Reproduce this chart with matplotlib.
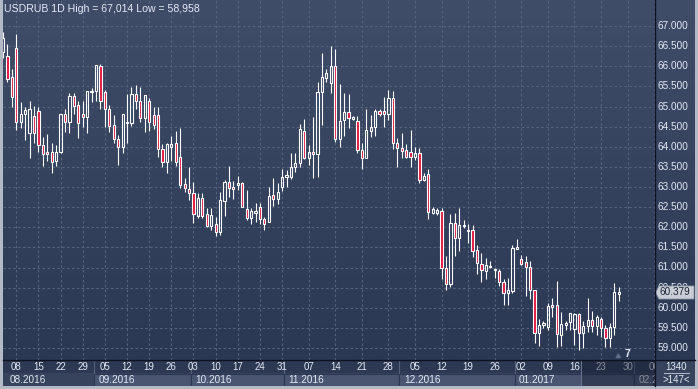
import numpy as np
import pandas as pd
import matplotlib
matplotlib.use('Agg')
import matplotlib.pyplot as plt
from matplotlib.patches import Rectangle, Polygon
from matplotlib.colors import LinearSegmentedColormap

W, H = 698, 389
plt.rcParams['font.family'] = ['Liberation Sans', 'DejaVu Sans']

# USDRUB daily bars (weekdays until early Nov, then Sun-Fri bars)
dates = list(pd.bdate_range('2016-08-03', '2016-11-04')) + \
    [d for d in pd.date_range('2016-11-06', '2017-02-12') if d.weekday() != 5]

opens = [66.354, 66.255, 65.733, 66.453, 64.615, 64.814, 64.342, 64.764, 64.888, 64.043,
         63.870, 63.870, 63.646, 63.870, 64.814, 64.615, 65.261, 65.037, 64.814, 64.739,
         65.360, 65.385, 66.006, 65.360, 64.938, 64.540, 64.193, 63.994, 64.590, 64.590,
         65.311, 65.137, 64.714, 65.137, 64.789, 64.789, 63.944, 63.621, 63.994, 64.093,
         63.745, 63.075, 62.950, 62.851, 62.279, 62.727, 62.329, 62.031, 62.081, 61.882,
         62.652, 63.124, 63.000, 63.050, 63.099, 62.453, 62.230, 62.354, 62.503, 62.205,
         62.130, 62.801, 62.702, 63.000, 63.248, 63.248, 63.497, 63.596, 64.391, 63.720,
         63.870, 63.820, 65.360, 65.708, 65.584, 66.006, 64.193, 64.665, 64.863, 64.689,
         64.640, 63.919, 63.720, 64.391, 64.491, 64.888, 64.888, 64.814, 65.211, 64.093,
         63.969, 63.919, 63.870, 63.745, 63.845, 63.174, 63.323, 62.354, 62.354, 62.404,
         60.988, 60.590, 62.105, 61.733, 62.031, 61.907, 61.932, 61.435, 61.087, 60.913,
         61.012, 60.938, 60.913, 60.640, 60.366, 60.416, 61.460, 61.211, 61.137, 61.012,
         60.441, 59.373, 59.571, 59.522, 60.068, 60.068, 59.323, 59.571, 59.646, 59.472,
         59.845, 59.373, 59.547, 59.696, 59.547, 59.720, 59.497, 59.248, 59.522, 60.342]
highs = [66.851, 66.553, 65.932, 66.801, 65.112, 64.988, 65.137, 65.012, 64.988, 64.242,
         64.317, 64.093, 64.043, 64.814, 64.938, 65.335, 65.335, 65.137, 65.137, 65.385,
         65.460, 66.031, 66.056, 65.410, 65.037, 64.789, 64.292, 64.814, 65.311, 65.484,
         65.534, 65.484, 65.286, 65.211, 64.988, 64.988, 64.068, 64.093, 64.267, 64.391,
         64.466, 63.224, 63.497, 63.124, 62.851, 62.851, 62.478, 62.478, 62.255, 62.876,
         63.174, 63.522, 63.149, 63.273, 63.124, 62.925, 62.478, 62.602, 62.602, 62.255,
         63.000, 63.224, 63.099, 63.447, 63.422, 63.845, 63.845, 64.565, 64.689, 64.043,
         64.739, 65.609, 66.329, 65.932, 66.503, 66.429, 65.559, 65.335, 65.311, 64.764,
         64.764, 64.093, 64.938, 64.789, 64.938, 64.938, 65.236, 65.410, 65.385, 64.217,
         64.342, 64.068, 64.416, 63.994, 63.969, 63.348, 63.447, 62.503, 62.478, 62.478,
         61.286, 62.329, 62.354, 62.478, 62.180, 62.081, 62.056, 61.559, 61.360, 61.236,
         61.161, 60.988, 60.963, 60.714, 60.739, 61.559, 61.708, 61.311, 61.286, 61.161,
         60.441, 59.720, 59.671, 60.118, 60.242, 60.665, 59.894, 59.671, 59.870, 59.870,
         59.870, 59.671, 60.242, 59.919, 59.820, 59.770, 59.571, 59.621, 60.615, 60.516]
lows = [66.205, 65.609, 64.988, 64.416, 64.466, 64.168, 63.720, 64.093, 63.870, 63.522,
        63.646, 63.348, 63.522, 63.845, 64.366, 64.342, 64.814, 64.217, 64.491, 64.342,
        65.112, 65.137, 64.938, 64.491, 64.366, 64.093, 63.547, 63.845, 64.093, 64.516,
        64.938, 64.615, 64.366, 64.391, 64.441, 63.745, 63.497, 63.348, 63.646, 63.522,
        62.975, 62.876, 62.677, 62.105, 62.230, 62.230, 62.006, 61.932, 61.782, 61.807,
        62.279, 62.752, 62.702, 62.925, 62.503, 62.180, 62.081, 62.130, 62.081, 61.932,
        62.130, 62.528, 62.578, 62.901, 63.000, 63.199, 63.373, 63.497, 63.696, 63.547,
        63.224, 63.248, 64.540, 65.609, 65.335, 64.118, 63.994, 64.267, 64.466, 64.665,
        63.845, 63.447, 63.720, 64.242, 64.267, 64.764, 64.491, 64.665, 63.944, 63.497,
        63.720, 63.720, 63.497, 63.671, 63.099, 63.149, 62.205, 62.329, 62.304, 60.714,
        60.441, 60.516, 61.286, 61.410, 61.981, 61.609, 61.261, 60.838, 60.640, 60.714,
        60.988, 60.739, 60.540, 60.068, 60.068, 60.366, 61.460, 61.062, 60.292, 60.217,
        59.124, 59.049, 59.497, 59.447, 59.770, 59.025, 59.049, 59.447, 59.447, 59.074,
        58.958, 59.000, 59.397, 59.397, 59.323, 59.273, 59.025, 59.025, 59.323, 60.168]
closes = [66.702, 65.683, 65.236, 64.615, 64.814, 64.913, 64.938, 64.342, 64.043, 63.820,
          63.820, 63.621, 63.870, 64.814, 64.615, 65.261, 65.012, 64.590, 64.739, 65.385,
          65.385, 66.031, 65.137, 64.938, 64.516, 64.193, 63.994, 64.814, 64.615, 65.311,
          65.137, 64.714, 65.286, 64.615, 64.540, 63.944, 63.621, 64.068, 64.068, 63.621,
          63.050, 62.975, 62.851, 62.329, 62.727, 62.279, 62.031, 62.304, 61.882, 62.677,
          63.124, 62.975, 62.950, 63.099, 62.503, 62.230, 62.404, 62.404, 62.205, 62.081,
          62.776, 62.702, 62.876, 63.248, 63.298, 63.497, 63.596, 64.441, 63.720, 63.870,
          63.820, 65.360, 65.733, 65.832, 66.006, 64.193, 64.640, 64.863, 64.714, 64.739,
          63.919, 63.720, 64.416, 64.491, 64.888, 64.814, 64.814, 65.211, 64.093, 63.969,
          63.894, 63.745, 63.745, 63.845, 63.174, 63.273, 62.379, 62.453, 62.429, 60.988,
          60.590, 62.105, 61.733, 62.056, 62.056, 61.932, 61.410, 61.112, 60.938, 61.062,
          61.037, 60.963, 60.640, 60.366, 60.441, 61.484, 61.509, 61.087, 61.012, 60.441,
          59.373, 59.571, 59.621, 60.043, 60.019, 59.348, 59.596, 59.621, 59.870, 59.845,
          59.373, 59.547, 59.696, 59.547, 59.770, 59.497, 59.248, 59.522, 60.391, 60.379]

price_levels = np.arange(59.0, 67.01, 0.5)
last_price = closes[-1]
bar_count = 1340
future_bars = 7

bg_top, bg_bot = '#404d69', '#2b3853'
grid_col = '#56637f'
txt_col = '#e3eaf6'
red = '#e5173f'

px_per_bar = 4.43
x_right = (655 - 3) / px_per_bar
y_top = 67 + 26 / 40.25
y_bot = 67 - 334 / 40.25


def px_axes(x0, y0, x1, y1):
    return fig.add_axes([x0 / W, 1 - y1 / H, (x1 - x0) / W, (y1 - y0) / H])


fig = plt.figure(figsize=(W / 100, H / 100), dpi=100, facecolor='#b3b9c5')

# gradient background behind plot and price scale
bg = px_axes(3, 0, 695, 360)
grad = np.linspace(0, 1, 256).reshape(-1, 1)
cmap = LinearSegmentedColormap.from_list('bg', [bg_top, bg_bot])
bg.imshow(grad, extent=[0, 1, 0, 1], aspect='auto', cmap=cmap, origin='upper')
bg.set_axis_off()

ax = px_axes(3, 0, 655, 360)
ax.patch.set_alpha(0)
ax.set_xlim(0, x_right)
ax.set_ylim(y_bot, y_top)
ax.set_axis_off()

n = len(opens)
xs = np.arange(n)
mondays = [i for i, d in enumerate(dates) if d.weekday() == 0 and i < x_right]

for lv in price_levels:
    ax.axhline(lv, color=grid_col, lw=0.8, ls=(0, (2.2, 2.2)), zorder=1)
for i in mondays:
    ax.axvline(i, color=grid_col, lw=0.8, ls=(0, (2.2, 2.2)), zorder=1)

o = np.array(opens); c = np.array(closes)
hi = np.array(highs); lo = np.array(lows)
top = np.maximum(o, c); bot = np.minimum(o, c)
ax.vlines(xs, top, hi, color='white', lw=0.8, zorder=3)
ax.vlines(xs, lo, bot, color='white', lw=0.8, zorder=3)
fills = [red if cc < oo else 'none' for oo, cc in zip(o, c)]
ax.bar(xs, np.maximum(top - bot, 0.015), bottom=bot, width=0.5,
       color=fills, edgecolor='white', linewidth=0.8, zorder=4)

fig.text(4 / W, 1 - 9 / H, 'USDRUB 1D High = 67,014 Low = 58,958',
         color=txt_col, fontsize=7.6, va='center', ha='left')

# future bars marker
ax.add_patch(Polygon([[n - 1.6, y_bot + 0.06], [n - 0.6, y_bot + 0.06],
                      [n - 1.1, y_bot + 0.15]], closed=True,
                     color='#5f6c88', zorder=5))
ax.text(n + 0.2, y_bot + 0.15, str(future_bars), color=txt_col, fontsize=7.5,
        ha='left', va='center', fontweight='bold')

# price scale
pax = px_axes(655, 0, 695, 360)
pax.patch.set_alpha(0)
pax.set_xlim(655, 695)
pax.set_ylim(y_bot, y_top)
pax.set_axis_off()
for lv in price_levels:
    pax.text(658, lv, f'{lv:,.3f}', color=txt_col, fontsize=7.2, va='center',
             ha='left', zorder=3)
dv = 6.5 / 40.25
pax.add_patch(Polygon([[655.5, last_price], [659, last_price + dv], [694, last_price + dv],
                       [694, last_price - dv], [659, last_price - dv]], closed=True,
                      fc='#c9cdd6', ec='#8d95a6', lw=0.6, zorder=5))
pax.text(659.5, last_price, f'{last_price:,.3f}', color='#1c2335', fontsize=7.2,
         va='center', ha='left', zorder=6)

# date axis
dax = px_axes(3, 360, 655, 386)
dax.set_xlim(0, x_right)
dax.set_ylim(26, 0)
dax.set_axis_off()
dax.add_patch(Rectangle((0, 0), x_right, 13, fc='#2d3953', ec='none'))
dax.add_patch(Rectangle((0, 13), x_right, 13, fc='#37435d', ec='none'))

month_starts = [i for i, d in enumerate(dates) if i == 0 or d.month != dates[i - 1].month]
month_starts = [i for i in month_starts if i < x_right]
for k, s in enumerate(month_starts):
    e = month_starts[k + 1] if k + 1 < len(month_starts) else x_right
    left = max(s - 0.5, 0)
    if k > 0:
        dax.add_patch(Rectangle((left, 13.5), e - 0.5 - left, 12.5, fc='#4a5671',
                                ec='#2b3650', lw=0.8))
        dax.plot([left, left], [0, 13], color='#56627c', lw=0.8)
    t = dax.text(left + 1.0 if k else left + 1.5, 20, dates[s].strftime('%m.%Y'),
                 color=txt_col, fontsize=7.2, va='center', ha='left')
    t.set_clip_box(dax.bbox)
    t.set_clip_on(True)

for i in mondays:
    t = dax.text(i, 7.5, dates[i].strftime('%d'), color=txt_col, fontsize=7,
                 va='center', ha='center')
    t.set_clip_box(dax.bbox)
    t.set_clip_on(True)

dax.add_patch(Rectangle((130.5, 0), x_right - 130.5, 26, fc='#161d2e', alpha=0.45,
                        ec='none', zorder=5))
dax.plot([130.5, 130.5], [0, 26], color='#66728c', lw=0.8, zorder=6)

# separators
fig.add_artist(plt.Line2D([3 / W, 695 / W], [1 - 360 / H] * 2, color='#0d1320', lw=1))
fig.add_artist(plt.Line2D([655 / W] * 2, [1 - 386 / H, 1], color='#0d1320', lw=1))

# corner box
cax = px_axes(655, 360, 695, 386)
cax.set_xlim(0, 40)
cax.set_ylim(26, 0)
cax.set_axis_off()
cax.add_patch(Rectangle((0, 0), 40, 26, fc='#37435d', ec='none'))
cax.text(21, 6.5, str(bar_count), color=txt_col, fontsize=7, ha='center', va='center')
cax.plot([9, 34], [13, 13], color='#aab3c4', lw=0.8)
cax.text(21, 20, f'>{int(x_right)}<', color=txt_col, fontsize=7, ha='center', va='center')

fig.savefig('out.png', dpi=100, facecolor=fig.get_facecolor())
